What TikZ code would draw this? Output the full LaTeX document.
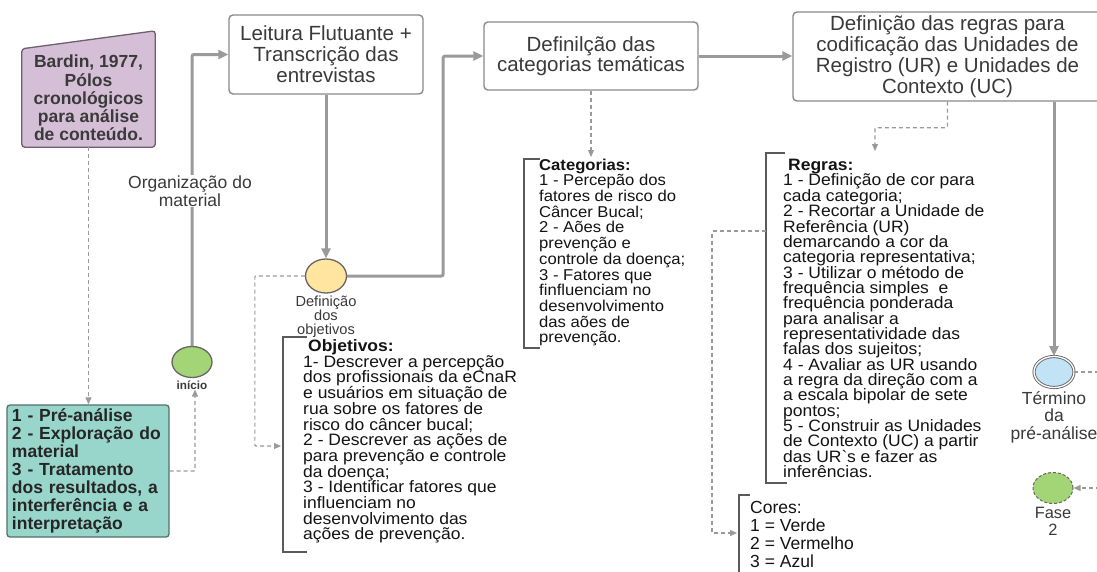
\documentclass[tikz,border=0pt]{standalone}
\usepackage{fontspec}
\setmainfont{Liberation Sans}
\newfontfamily\notefont{Liberation Sans}[FakeStretch=1.06]
\usetikzlibrary{arrows.meta,shapes.geometric,backgrounds}

\definecolor{linegray}{HTML}{9A9A9A}
\definecolor{boxborder}{HTML}{8A8A8A}
\definecolor{brkgray}{HTML}{5A5A5A}
\definecolor{titletext}{HTML}{3A3A3A}
\definecolor{notetext}{HTML}{141414}
\definecolor{darktext}{HTML}{262626}
\definecolor{bardinfill}{HTML}{D5BFD7}
\definecolor{bardinborder}{HTML}{6E5E70}
\definecolor{tealfill}{HTML}{98D5CA}
\definecolor{tealborder}{HTML}{527068}
\definecolor{yellowfill}{HTML}{FFE59F}
\definecolor{greenfill}{HTML}{A3D576}
\definecolor{bluefill}{HTML}{C2E2F6}
\definecolor{circborder}{HTML}{666666}

% font size with a fixed line pitch, even when lines come very close
\newcommand{\fsz}[2]{\fontsize{#1}{#2}\selectfont\lineskiplimit=-40pt\relax}

\begin{document}
\begin{tikzpicture}[x=1pt,y=-1pt,
  flow/.style={draw=linegray, line width=3pt, rounded corners=2pt,
    -{Triangle[length=10pt,width=9pt]}},
  dline/.style={draw=linegray, line width=1.2pt, dash pattern=on 4pt off 3pt, rounded corners=1pt},
  dflow/.style={dline, -{Triangle[length=7pt,width=6pt]}},
  procbox/.style={draw=boxborder, line width=1.4pt, rounded corners=4pt, fill=white,
    align=center, text=titletext, inner sep=0pt, font=\fsz{20.5}{21}},
  brk/.style={draw=brkgray, line width=1.4pt},
  brktext/.style={align=left, anchor=west, inner sep=0pt, text=notetext,
    font=\notefont\fsz{16.5}{15.7}},
  event/.style={ellipse, draw=circborder, line width=1.3pt, inner sep=0pt,
    minimum width=40pt, minimum height=31pt},
  evlabel/.style={align=center, inner sep=0pt, text=titletext}
]
\clip (0,0) rectangle (1097,571);

% ---- process boxes ----
\node[procbox, minimum width=194pt, minimum height=79pt] (leitura) at (326,54.5)
  {Leitura Flutuante +\\Transcrição das\\entrevistas};
\node[procbox, minimum width=214pt, minimum height=68pt,
      font=\fsz{20.5}{20}] (cat) at (591,56)
  {Definilção das\\categorias temáticas};
\node[procbox, minimum width=309pt, minimum height=89pt] (regras) at (947.5,56.5)
  {Definição das regras para\\codificação das Unidades de\\Registro (UR) e Unidades de\\Contexto (UC)};

% ---- source card with slanted top ----
\node[inner sep=0pt, minimum width=133pt, minimum height=98pt, align=center,
      font=\bfseries\fsz{17.5}{18.25}, text=titletext] (bardin) at (88.5,98)
  {Bardin, 1977,\\Pólos\\cronológicos\\para análise\\de conteúdo.};

% ---- phases card ----
\node[draw=tealborder, fill=tealfill, line width=1.3pt, rounded corners=3pt,
      text width=152pt, inner xsep=5pt, inner ysep=0pt, minimum height=132pt,
      align=left, text=darktext, font=\bfseries\fsz{17.5}{18}] (teal) at (88,471)
  {1 - Pré-análise\\2 - Exploração do\\material\\3 - Tratamento\\dos resultados, a\\interferência e a\\interpretação};

\begin{scope}[on background layer]
  \fill[white] (0,0) rectangle (1097,571);
  \draw[fill=bardinfill, draw=bardinborder, line width=1.3pt, rounded corners=3pt]
    (bardin.south west) -- (bardin.south east) -- ([yshift=18pt]bardin.north east)
    -- (bardin.north west) -- cycle;
\end{scope}

% ---- events ----
\node[event, fill=greenfill] (inicio) at (192,362) {};
\node[evlabel, font=\bfseries\fsz{11.7}{13}] (inicioLbl) at (192,385) {início};
\node[event, fill=yellowfill, minimum width=41pt, minimum height=34pt] (defobj) at (326,276) {};
\node[evlabel, font=\fsz{14.6}{14}] (defobjLbl) at (326,317)
  {Definição\\dos\\objetivos};
\node[event, fill=bluefill, draw=circborder, line width=0.9pt, double=white,
      double distance=1.3pt] (termino) at (1054,372) {};
\node[evlabel, font=\fsz{17.5}{17.5}] (terminoLbl) at (1054,417)
  {Término\\da\\pré-análise};
\node[event, fill=greenfill, line width=1pt, dash pattern=on 3pt off 2pt] (fase) at (1053,488) {};
\node[evlabel, font=\fsz{16.4}{17}] (faseLbl) at (1053,521) {Fase\\2};

% ---- annotation brackets ----
\draw[brk] (307,337) -- (283,337) -- (283,552) -- (307,552);
\draw[brk] (540,159) -- (524,159) -- (524,348) -- (540,348);
\draw[brk] (785,153) -- (766,153) -- (766,483) -- (787,483);
\draw[brk] (750,495) -- (739,495) -- (739,580);

\coordinate (objIn) at (281,446);
\coordinate (catIn) at (591,157);
\coordinate (regIn) at (875,151);
\coordinate (regOut) at (766,231);
\coordinate (coresIn) at (737,533);
\coordinate (termOut) at (1100,372);
\coordinate (faseIn) at (1100,488);

\node[brktext] (objtxt) at (303,441.5)
  {\hspace*{5pt}\textbf{Objetivos:}\\1- Descrever a percepção\\dos profissionais da eCnaR\\e usuários em situação de\\rua sobre os fatores de\\risco do câncer bucal;\\2 - Descrever as ações de\\para prevenção e controle\\da doença;\\3 - Identificar fatores que\\influenciam no\\desenvolvimento das\\ações de prevenção.};
\node[brktext, font=\notefont\fsz{15.7}{15.7}] (cattxt) at (539,252.5)
  {\textbf{Categorias:}\\1 - Percepão dos\\fatores de risco do\\Câncer Bucal;\\2 - Aões de\\prevenção e\\controle da doença;\\3 - Fatores que\\finfluenciam no\\desenvolvimento\\das aões de\\prevenção.};
\node[brktext, font=\notefont\fsz{16.5}{15.35}] (regtxt) at (783,318.5)
  {\hspace*{5pt}\textbf{Regras:}\\1 - Definição de cor para\\cada categoria;\\2 - Recortar a Unidade de\\Referência (UR)\\demarcando a cor da\\categoria representativa;\\3 - Utilizar o método de\\frequência simples~ e\\frequência ponderada\\para analisar a\\representatividade das\\falas dos sujeitos;\\4 - Avaliar as UR usando\\a regra da direção com a\\a escala bipolar de sete\\pontos;\\5 - Construir as Unidades\\de Contexto (UC) a partir\\das UR\textasciigrave s e fazer as\\inferências.};
\node[brktext, font=\fsz{17.5}{18.3}] (corestxt) at (750,534.5)
  {Cores:\\1 = Verde\\2 = Vermelho\\3 = Azul};

% ---- connectors ----
\draw[dflow] (bardin.south) -- (bardin.south |- teal.north);
\draw[dflow] (teal.east) -| ([xshift=3pt]inicioLbl.south);
\draw[flow] (inicio.north) |- (leitura.west);
\draw[flow] (leitura.south) -- (defobj.north);
\draw[flow] (defobj.east) -- ++(96,0) |- (cat.west);
\draw[dflow] (defobj.west) -- ++(-50,0) |- (objIn);
\draw[flow] (cat.east) -- (cat.east -| regras.west);
\draw[dflow] (cat.south) -- (catIn);
\draw[dflow] (regras.south) -- ++(0,26) -| (regIn);
\draw[dflow] (regOut) -- ++(-54,0) |- (coresIn);
\draw[flow] (regras.south -| termino.north) -- (termino.north);
\draw[dline] (termino.east) -- (termOut);
\draw[dflow] (faseIn) -- (fase.east);

% label sitting on the first flow line
\node[fill=white, align=center, inner sep=1pt, text=titletext,
      font=\fsz{17.5}{18}] (orgLbl) at (190,191) {Organização do\\material};
\end{tikzpicture}
\end{document}
